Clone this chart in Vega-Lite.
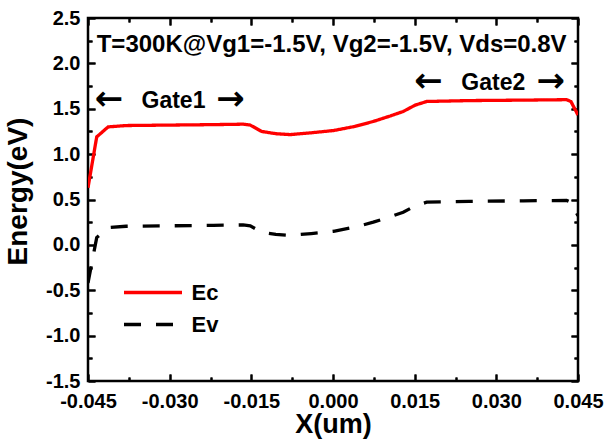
{
  "$schema": "https://vega.github.io/schema/vega-lite/v6.json",
  "width": 490,
  "height": 363,
  "autosize": {"type": "none"},
  "padding": {"left": 88, "top": 18, "right": 30, "bottom": 58},
  "background": "white",
  "datasets": {
    "bands": [
      {"x": -0.045, "E": 0.63, "band": "Ec"},
      {"x": -0.0434, "E": 1.19, "band": "Ec"},
      {"x": -0.0413, "E": 1.30, "band": "Ec"},
      {"x": -0.038, "E": 1.315, "band": "Ec"},
      {"x": -0.030, "E": 1.32, "band": "Ec"},
      {"x": -0.022, "E": 1.325, "band": "Ec"},
      {"x": -0.0165, "E": 1.33, "band": "Ec"},
      {"x": -0.0152, "E": 1.32, "band": "Ec"},
      {"x": -0.0131, "E": 1.25, "band": "Ec"},
      {"x": -0.0105, "E": 1.225, "band": "Ec"},
      {"x": -0.0079, "E": 1.215, "band": "Ec"},
      {"x": -0.004, "E": 1.235, "band": "Ec"},
      {"x": 0.0001, "E": 1.26, "band": "Ec"},
      {"x": 0.004, "E": 1.305, "band": "Ec"},
      {"x": 0.0074, "E": 1.36, "band": "Ec"},
      {"x": 0.0105, "E": 1.42, "band": "Ec"},
      {"x": 0.0129, "E": 1.47, "band": "Ec"},
      {"x": 0.0151, "E": 1.54, "band": "Ec"},
      {"x": 0.0172, "E": 1.58, "band": "Ec"},
      {"x": 0.025, "E": 1.59, "band": "Ec"},
      {"x": 0.035, "E": 1.595, "band": "Ec"},
      {"x": 0.0429, "E": 1.60, "band": "Ec"},
      {"x": 0.0437, "E": 1.58, "band": "Ec"},
      {"x": 0.045, "E": 1.43, "band": "Ec"},
      {"x": -0.045, "E": -0.42, "band": "Ev"},
      {"x": -0.0434, "E": 0.08, "band": "Ev"},
      {"x": -0.0413, "E": 0.19, "band": "Ev"},
      {"x": -0.038, "E": 0.205, "band": "Ev"},
      {"x": -0.030, "E": 0.21, "band": "Ev"},
      {"x": -0.022, "E": 0.215, "band": "Ev"},
      {"x": -0.0165, "E": 0.22, "band": "Ev"},
      {"x": -0.0152, "E": 0.21, "band": "Ev"},
      {"x": -0.0131, "E": 0.14, "band": "Ev"},
      {"x": -0.0105, "E": 0.115, "band": "Ev"},
      {"x": -0.0079, "E": 0.105, "band": "Ev"},
      {"x": -0.004, "E": 0.125, "band": "Ev"},
      {"x": 0.0001, "E": 0.15, "band": "Ev"},
      {"x": 0.004, "E": 0.195, "band": "Ev"},
      {"x": 0.0074, "E": 0.25, "band": "Ev"},
      {"x": 0.0105, "E": 0.31, "band": "Ev"},
      {"x": 0.0129, "E": 0.36, "band": "Ev"},
      {"x": 0.0151, "E": 0.43, "band": "Ev"},
      {"x": 0.0172, "E": 0.47, "band": "Ev"},
      {"x": 0.025, "E": 0.48, "band": "Ev"},
      {"x": 0.035, "E": 0.485, "band": "Ev"},
      {"x": 0.0429, "E": 0.49, "band": "Ev"},
      {"x": 0.0437, "E": 0.47, "band": "Ev"},
      {"x": 0.045, "E": 0.32, "band": "Ev"}
    ],
    "title": [
      {"x": -0.0434, "E": 2.2, "label": "T=300K@Vg1=-1.5V, Vg2=-1.5V, Vds=0.8V"}
    ],
    "gates": [
      {"x": -0.0293, "E": 1.586, "label": "Gate1"},
      {"x": 0.02945, "E": 1.785, "label": "Gate2"}
    ],
    "arrows": [
      {"x": -0.04118, "E": 1.597, "label": "←"},
      {"x": -0.01882, "E": 1.597, "label": "→"},
      {"x": 0.01751, "E": 1.80, "label": "←"},
      {"x": 0.04001, "E": 1.80, "label": "→"}
    ]
  },
  "layer": [
    {
      "data": {"name": "bands"},
      "mark": {"type": "line", "strokeWidth": 3.3, "clip": true},
      "encoding": {
        "x": {
          "field": "x", "type": "quantitative",
          "scale": {"domain": [-0.045, 0.045], "nice": false, "zero": false},
          "axis": {
            "orient": "bottom",
            "values": [-0.045, -0.03, -0.015, 0, 0.015, 0.03, 0.045],
            "labelExpr": "(datum.value < -1e-9 ? '-' : '') + format(abs(datum.value), '.3f')",
            "domain": false,
            "grid": true, "gridColor": "black", "gridWidth": 2, "gridOpacity": 1,
            "gridDash": [7, 349, 7, 600],
            "ticks": true,
            "tickColor": "black", "tickWidth": 2,
            "tickSize": -7,
            "labelPadding": 17,
            "title": "X(um)",
            "titleFontSize": 27,
            "titleBaseline": "middle",
            "titleAlign": "center",
            "titleX": 245,
            "titleY": 43
          }
        },
        "y": {
          "field": "E", "type": "quantitative",
          "scale": {"domain": [-1.5, 2.5], "nice": false, "zero": false},
          "axis": {
            "orient": "left",
            "values": [-1.5, -1, -0.5, 0, 0.5, 1, 1.5, 2, 2.5],
            "labelExpr": "(datum.value < -1e-9 ? '-' : '') + format(abs(datum.value), '.1f')",
            "domain": false,
            "grid": true, "gridColor": "black", "gridWidth": 2, "gridOpacity": 1,
            "gridDash": [7, 476, 7, 600],
            "ticks": true,
            "tickColor": "black", "tickWidth": 2,
            "tickSize": -7,
            "labelPadding": 15,
            "title": "Energy(eV)",
            "titleFontSize": 28,
            "titleAngle": -90,
            "titleBaseline": "middle",
            "titleAlign": "center",
            "titleX": -70,
            "titleY": 173
          }
        },
        "color": {
          "field": "band", "type": "nominal",
          "scale": {"domain": ["Ec", "Ev"], "range": ["#ff0000", "#000000"]},
          "legend": {"title": null, "orient": "none", "legendX": 48.5, "legendY": 258, "symbolType": "M-2,0H2", "symbolSize": 841, "rowPadding": 4, "labelOffset": 22}
        },
        "strokeDash": {
          "field": "band", "type": "nominal",
          "scale": {"domain": ["Ec", "Ev"], "range": [[1, 0], [17, 15]]},
          "legend": {"title": null, "orient": "none", "legendX": 48.5, "legendY": 258, "symbolType": "M-2,0H2", "symbolSize": 841, "rowPadding": 4, "labelOffset": 22}
        }
      }
    },
    {
      "data": {"name": "title"},
      "mark": {"type": "text", "font": "Liberation Sans", "fontSize": 24, "fontWeight": "bold", "align": "left", "baseline": "middle", "color": "black"},
      "encoding": {
        "x": {
          "field": "x", "type": "quantitative",
          "axis": {"orient": "top", "labels": false, "title": null,
            "domain": false, "grid": false, "ticks": true, "tickColor": "black", "tickWidth": 2, "tickSize": -7,
            "values": [-0.045, -0.03, -0.015, 0, 0.015, 0.03, 0.045]}
        },
        "y": {
          "field": "E", "type": "quantitative",
          "axis": {"orient": "right", "labels": false, "title": null,
            "domain": false, "grid": false, "ticks": true, "tickColor": "black", "tickWidth": 2, "tickSize": -7,
            "values": [-1.5, -1, -0.5, 0, 0.5, 1, 1.5, 2, 2.5]}
        },
        "text": {"field": "label", "type": "nominal"}
      }
    },
    {
      "data": {"name": "gates"},
      "mark": {"type": "text", "font": "Liberation Sans", "fontSize": 23, "fontWeight": "bold", "align": "center", "baseline": "middle", "color": "black"},
      "encoding": {
        "x": {
          "field": "x", "type": "quantitative",
          "axis": {"orient": "bottom", "labels": false, "title": null,
            "domain": false, "ticks": true, "tickColor": "black", "tickWidth": 2, "tickSize": -4,
            "grid": true, "gridColor": "black", "gridWidth": 2, "gridOpacity": 1,
            "gridDash": [4, 355, 4, 600],
            "values": [-0.0375, -0.0225, -0.0075, 0.0075, 0.0225, 0.0375]}
        },
        "y": {
          "field": "E", "type": "quantitative",
          "axis": {"orient": "left", "labels": false, "title": null,
            "domain": false, "ticks": true, "tickColor": "black", "tickWidth": 2, "tickSize": -4,
            "grid": true, "gridColor": "black", "gridWidth": 2, "gridOpacity": 1,
            "gridDash": [4, 482, 4, 600],
            "values": [-1.25, -0.75, -0.25, 0.25, 0.75, 1.25, 1.75, 2.25]}
        },
        "text": {"field": "label", "type": "nominal"}
      }
    },
    {
      "data": {"name": "arrows"},
      "mark": {"type": "text", "font": "DejaVu Sans", "fontSize": 34, "fontWeight": "bold", "align": "center", "baseline": "middle", "color": "black"},
      "encoding": {
        "x": {
          "field": "x", "type": "quantitative",
          "axis": {"orient": "top", "labels": false, "title": null,
            "domain": false, "grid": false, "ticks": true, "tickColor": "black", "tickWidth": 2, "tickSize": -4,
            "values": [-0.0375, -0.0225, -0.0075, 0.0075, 0.0225, 0.0375]}
        },
        "y": {
          "field": "E", "type": "quantitative",
          "axis": {"orient": "right", "labels": false, "title": null,
            "domain": false, "grid": false, "ticks": true, "tickColor": "black", "tickWidth": 2, "tickSize": -4,
            "values": [-1.25, -0.75, -0.25, 0.25, 0.75, 1.25, 1.75, 2.25]}
        },
        "text": {"field": "label", "type": "nominal"}
      }
    }
  ],
  "resolve": {"axis": {"x": "independent", "y": "independent"}},
  "config": {
    "view": {"stroke": "black", "strokeWidth": 2.5},
    "axis": {
      "labelFont": "Liberation Sans",
      "labelFontSize": 20,
      "labelFontWeight": "bold",
      "labelColor": "black",
      "labelFlush": false,
      "labelOverlap": false,
      "titleFont": "Liberation Sans",
      "titleFontWeight": "bold",
      "titleColor": "black"
    },
    "legend": {
      "symbolStrokeWidth": 3.5,
      "labelFont": "Liberation Sans",
      "labelFontSize": 22,
      "labelFontWeight": "bold",
      "labelColor": "black",
      "padding": 0
    }
  }
}
